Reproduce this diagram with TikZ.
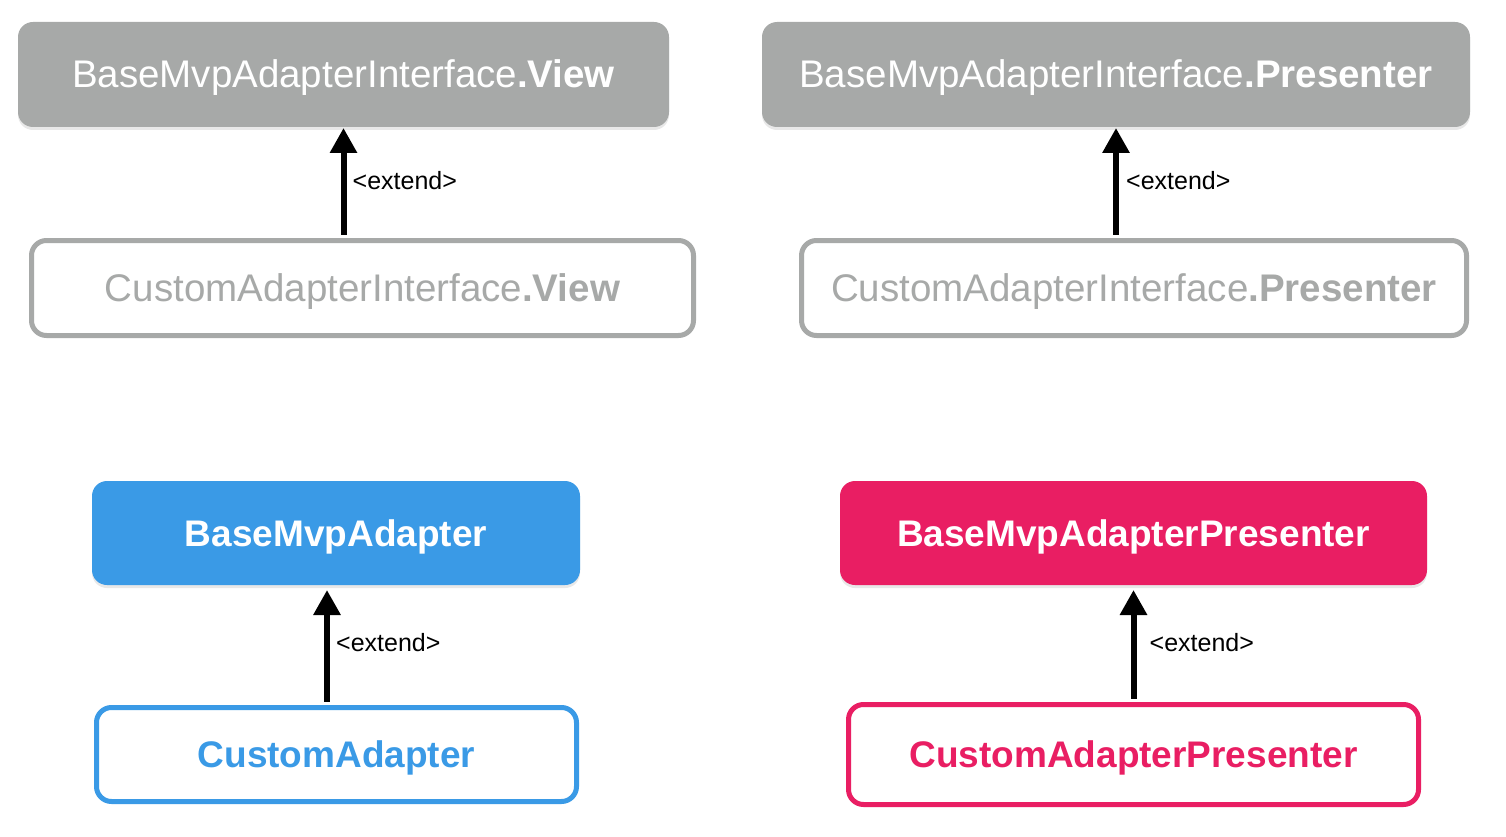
\documentclass[tikz,border=0pt]{standalone}
\usepackage{fontspec}
\setmainfont{Liberation Sans}
\newfontfamily\lblfont{Liberation Sans}
\usetikzlibrary{arrows.meta,calc,shadows}
\definecolor{boxgray}{HTML}{A7A9A8}
\definecolor{boxblue}{HTML}{3A9AE6}
\definecolor{boxpink}{HTML}{E91E63}
\tikzset{
  boxtext/.style={text height=27pt, text depth=0pt, font=\fontsize{38.5}{44}\selectfont},
  boldtext/.style={text height=26.5pt, text depth=0pt, font=\fontsize{37}{44}\selectfont\bfseries},
  basebox/.style={rectangle, rounded corners=15pt, inner sep=0pt, outer sep=0pt,
    text=white, drop shadow={opacity=0.18, shadow xshift=0pt, shadow yshift=-3pt}},
  custbox/.style={rectangle, rounded corners=15pt, inner sep=0pt, outer sep=0pt,
    line width=5pt, fill=white},
  extarrow/.style={line width=6pt, -{Triangle[length=25pt,width=26pt]}},
  extlabel/.style={anchor=west, inner sep=0pt, font=\lblfont\fontsize{25}{30}\selectfont}
}
\begin{document}
\begin{tikzpicture}[x=1pt,y=-1pt]
\useasboundingbox (0,0) rectangle (1506,837);
% top row
\node[basebox, boxtext, fill=boxgray, minimum width=651pt, minimum height=105pt] (b1) at (343.5,74.5)
  {BaseMvpAdapterInterface\textbf{.View}};
\node[basebox, boxtext, fill=boxgray, minimum width=708pt, minimum height=105pt] (b2) at (1116,74.5)
  {BaseMvpAdapterInterface\textbf{.Presenter}};
\node[custbox, boxtext, draw=boxgray, text=boxgray, minimum width=662pt, minimum height=95pt] (c1) at (362.5,288)
  {CustomAdapterInterface\textbf{.View}};
\node[custbox, boxtext, draw=boxgray, text=boxgray, minimum width=665pt, minimum height=95pt] (c2) at (1134,288)
  {CustomAdapterInterface\textbf{.Presenter}};
% bottom row
\node[basebox, boldtext, fill=boxblue, minimum width=488pt, minimum height=104pt] (b3) at (336,533)
  {BaseMvpAdapter};
\node[basebox, boldtext, fill=boxpink, minimum width=587pt, minimum height=104pt] (b4) at (1133.5,533)
  {BaseMvpAdapterPresenter};
\node[custbox, boldtext, draw=boxblue, text=boxblue, minimum width=480pt, minimum height=94pt] (c3) at (336.5,754.5)
  {CustomAdapter};
\node[custbox, boldtext, draw=boxpink, text=boxpink, minimum width=570pt, minimum height=100pt] (c4) at (1133.5,754.5)
  {CustomAdapterPresenter};
% arrows
\draw[extarrow] ($(b1.south |- c1.north)+(0,-6)$) -- ($(b1.south)+(0,1)$);
\node[extlabel] (l1) at ($(b1.south)+(9,54)$) {<extend>};
\draw[extarrow] ($(b2.south |- c2.north)+(0,-6)$) -- ($(b2.south)+(0,1)$);
\node[extlabel] (l2) at ($(b2.south)+(10,54)$) {<extend>};
\draw[extarrow] ($(b3.south |- c3.north)+(-9,-6)$) -- ($(b3.south)+(-9,5)$);
\node[extlabel] (l3) at ($(b3.south)+(0,58)$) {<extend>};
\draw[extarrow] ($(b4.south |- c4.north)+(0,-6)$) -- ($(b4.south)+(0,5)$);
\node[extlabel] (l4) at ($(b4.south)+(16,58)$) {<extend>};
\end{tikzpicture}
\end{document}
